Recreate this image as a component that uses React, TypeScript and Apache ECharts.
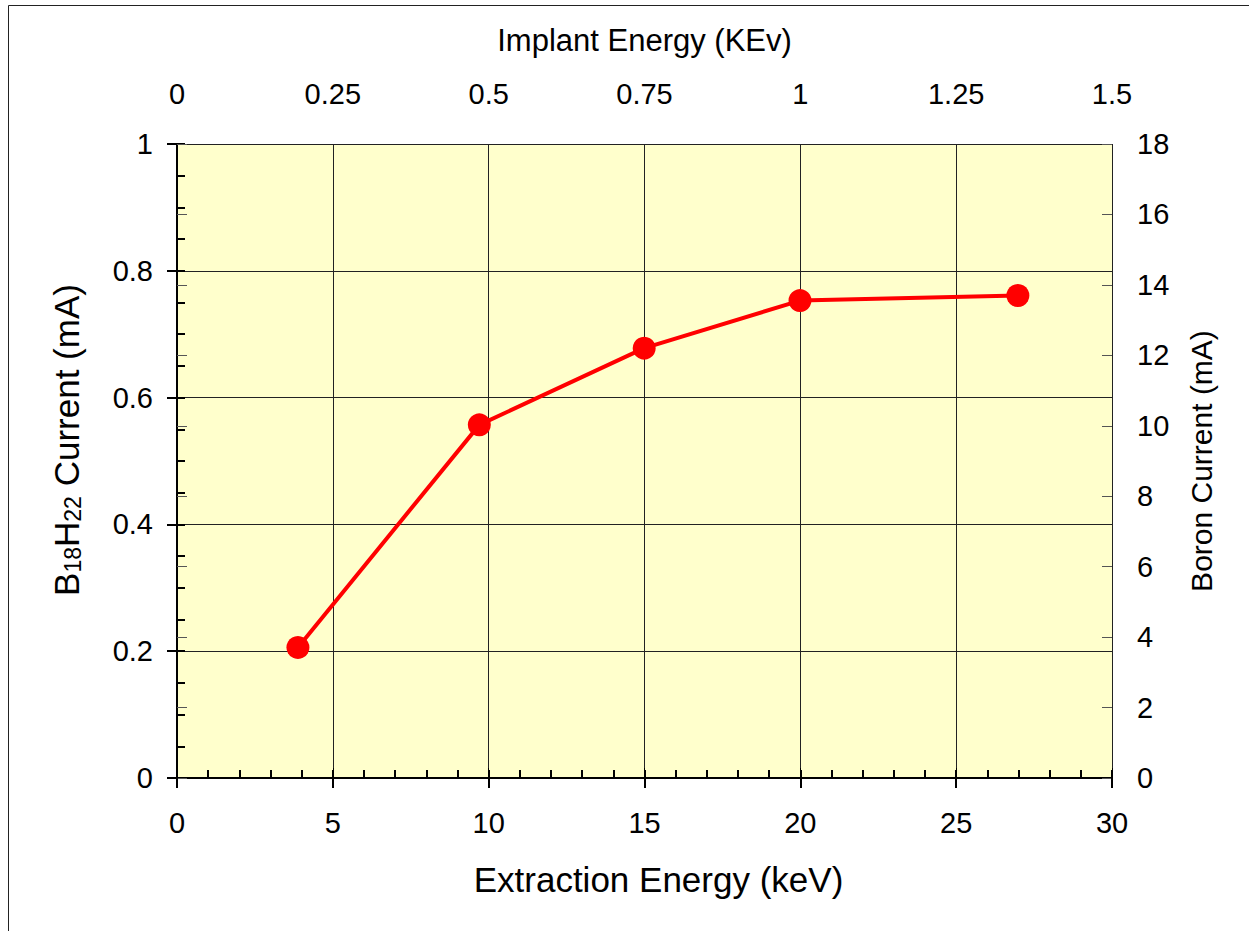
import React, { useEffect, useRef } from 'react';
import * as echarts from 'echarts';

// ---- data ----
const extractionEnergy = [3.88, 9.7, 14.99, 19.99, 26.98]; // keV
const b18h22Current = [0.206, 0.557, 0.678, 0.753, 0.761]; // mA

// ---- axis ranges ----
const bottomRange = [0, 30];
const bottomInterval = 5;
const topRange = [0, 1.5];
const topInterval = 0.25;
const leftRange = [0, 1];
const leftInterval = 0.2;
const rightRange = [0, 18];
const rightInterval = 2;

const FONT = '"Liberation Sans", Arial, Helvetica, sans-serif';

export default function App() {
  const ref = useRef<HTMLDivElement>(null);

  useEffect(() => {
    if (!ref.current) return;
    const chart = echarts.init(ref.current, undefined, { renderer: 'svg' });

    const tickLabel = { fontFamily: FONT, fontSize: 29, color: '#000' };
    const hidden = { show: false };

    const option: any = {
      animation: false,
      backgroundColor: '#fff',
      grid: {
        left: 177,
        top: 144,
        right: 137,
        bottom: 153,
        show: true,
        backgroundColor: '#FFFFCC',
        borderWidth: 0,
        containLabel: false,
      },
      graphic: [
        {
          type: 'rect',
          silent: true,
          z: -10,
          shape: { x: 8.5, y: 5.5, width: 1400, height: 1100 },
          style: { fill: 'none', stroke: '#222', lineWidth: 1 },
        },
      ],
      xAxis: [
        {
          type: 'value',
          position: 'bottom',
          min: bottomRange[0],
          max: bottomRange[1],
          interval: bottomInterval,
          name: 'Extraction Energy (keV)',
          nameLocation: 'middle',
          nameGap: 84,
          nameTextStyle: { fontFamily: FONT, fontSize: 35, color: '#000', padding: [0, 0, 0, 28] },
          axisLine: { show: true, lineStyle: { color: '#000', width: 2 } },
          axisTick: { show: true, inside: true, length: 8, lineStyle: { color: '#000', width: 2 } },
          minorTick: { show: true, splitNumber: 5, length: 8, lineStyle: { color: '#000', width: 2 } },
          axisLabel: { ...tickLabel, margin: 30 },
          splitLine: { show: true, lineStyle: { color: '#222', width: 1 } },
          minorSplitLine: hidden,
          z: 5,
        },
        {
          type: 'value',
          position: 'bottom',
          min: bottomRange[0],
          max: bottomRange[1],
          interval: bottomInterval,
          axisLine: hidden,
          axisTick: { show: true, inside: false, length: 10, lineStyle: { color: '#000', width: 2 } },
          axisLabel: hidden,
          splitLine: hidden,
          z: 5,
        },
        {
          type: 'value',
          position: 'top',
          min: topRange[0],
          max: topRange[1],
          interval: topInterval,
          name: 'Implant Energy (KEv)',
          nameLocation: 'middle',
          nameGap: 88,
          nameTextStyle: { fontFamily: FONT, fontSize: 31, color: '#000' },
          axisLine: { show: true, lineStyle: { color: '#000', width: 2 } },
          axisTick: { show: true, inside: false, length: 10, lineStyle: { color: '#000', width: 1 } },
          axisLabel: { ...tickLabel, margin: 36, showMinLabel: true, showMaxLabel: true },
          splitLine: hidden,
          z: 5,
        },
      ],
      yAxis: [
        {
          type: 'value',
          position: 'left',
          min: leftRange[0],
          max: leftRange[1],
          interval: leftInterval,
          name: '{n|B}{s|18}{n|H}{s|22}{n| Current (mA)}',
          nameLocation: 'middle',
          nameGap: 93,
          nameTextStyle: {
            fontFamily: FONT,
            fontSize: 35,
            color: '#000',
            padding: [0, 0, 0, 42],
            rich: {
              n: { fontFamily: FONT, fontSize: 35, color: '#000', verticalAlign: 'bottom' },
              s: { fontFamily: FONT, fontSize: 23, color: '#000', verticalAlign: 'bottom' },
            },
          },
          axisLine: { show: true, lineStyle: { color: '#000', width: 2 } },
          axisTick: { show: true, inside: true, length: 8, lineStyle: { color: '#000', width: 2 } },
          minorTick: { show: true, splitNumber: 4, length: 8, lineStyle: { color: '#000', width: 2 } },
          axisLabel: { ...tickLabel, margin: 24 },
          splitLine: { show: true, lineStyle: { color: '#222', width: 1 } },
          z: 5,
        },
        {
          type: 'value',
          position: 'left',
          min: leftRange[0],
          max: leftRange[1],
          interval: leftInterval,
          axisLine: hidden,
          axisTick: { show: true, inside: false, length: 10, lineStyle: { color: '#000', width: 2 } },
          axisLabel: hidden,
          splitLine: hidden,
          z: 5,
        },
        {
          type: 'value',
          position: 'right',
          min: rightRange[0],
          max: rightRange[1],
          interval: rightInterval,
          name: 'Boron Current (mA)',
          nameLocation: 'middle',
          nameGap: 74,
          nameTextStyle: { fontFamily: FONT, fontSize: 30, color: '#000' },
          axisLine: { show: true, lineStyle: { color: '#000', width: 2 } },
          axisTick: { show: true, inside: false, length: 10, lineStyle: { color: '#555', width: 1 } },
          axisLabel: { ...tickLabel, margin: 25 },
          splitLine: hidden,
          z: 5,
        },
        {
          type: 'value',
          position: 'right',
          min: rightRange[0],
          max: rightRange[1],
          interval: rightInterval,
          axisLine: hidden,
          axisTick: { show: true, inside: true, length: 10, lineStyle: { color: '#555', width: 1 } },
          axisLabel: hidden,
          splitLine: hidden,
          z: 5,
        },
      ],
      series: [
        {
          type: 'line',
          xAxisIndex: 0,
          yAxisIndex: 0,
          data: extractionEnergy.map((x, i) => [x, b18h22Current[i]]),
          symbol: 'circle',
          symbolSize: 23,
          showSymbol: true,
          lineStyle: { color: '#FF0000', width: 4 },
          itemStyle: { color: '#FF0000' },
          z: 10,
        },
      ],
    };

    chart.setOption(option);
    return () => chart.dispose();
  }, []);

  return (
    <div
      ref={ref}
      style={{ position: 'absolute', left: 0, top: 0, width: 1249, height: 931 }}
    />
  );
}
